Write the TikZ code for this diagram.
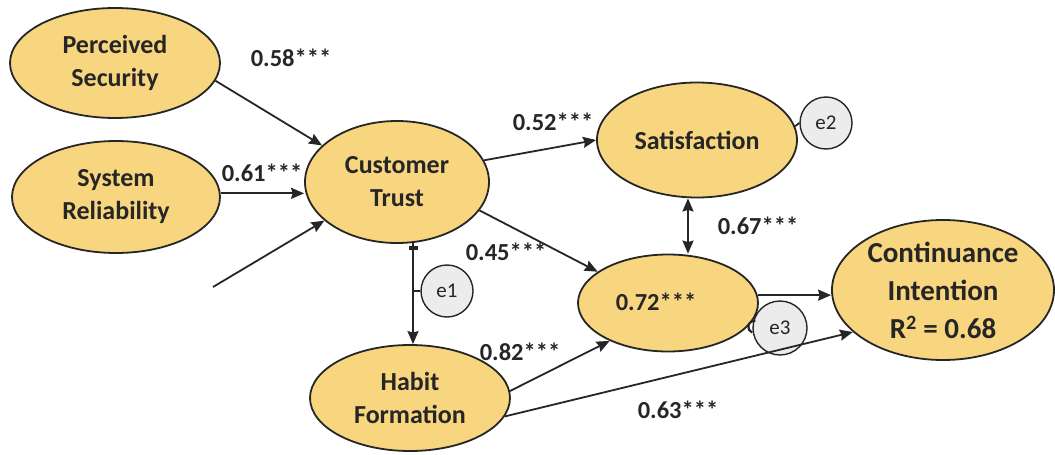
\documentclass[tikz,border=0pt]{standalone}
\usepackage{fontspec}
\setmainfont{Carlito}
\usetikzlibrary{arrows.meta,shapes.geometric}
\definecolor{lvfill}{HTML}{F8D57F}
\definecolor{efill}{HTML}{ECECEC}
\definecolor{ink}{HTML}{262626}
\tikzset{
 lv/.style={ellipse, draw=ink, line width=1.8pt, fill=lvfill, inner sep=0pt, align=center, text=ink, font=\fontsize{26}{33}\selectfont\bfseries},
 errc/.style={circle, draw=ink, line width=1.4pt, fill=efill, minimum size=52pt, inner sep=0pt, text=ink, font=\fontsize{21}{24}\selectfont},
 coef/.style={font=\fontsize{24.5}{28}\selectfont\bfseries, text=ink, inner sep=0pt},
 arr/.style={draw=ink, line width=1.8pt, -{Stealth[length=13pt,width=11pt,inset=1.5pt]}},
 darr/.style={draw=ink, line width=1.8pt, {Stealth[length=13pt,width=11pt,inset=1.5pt]}-{Stealth[length=13pt,width=11pt,inset=1.5pt]}},
 teearr/.style={draw=ink, line width=1.8pt, {Rectangle[length=4pt,width=9pt]}-{Stealth[length=13pt,width=11pt,inset=1.5pt]}},
 link/.style={draw=ink, line width=1.8pt},
}
\begin{document}
\begin{tikzpicture}[x=1pt,y=-1pt]
\useasboundingbox (0,0) rectangle (1055,455);
\fill[white] (0,0) rectangle (1055,455);

% latent variables
\node[lv, minimum width=210pt, minimum height=110pt] (ps) at (115,63) {Perceived\\Security};
\node[lv, minimum width=208pt, minimum height=112pt] (sr) at (116,197) {System\\Reliability};
\node[lv, minimum width=184pt, minimum height=122pt] (ct) at (397,182) {Customer\\Trust};
\node[lv, minimum width=200pt, minimum height=115pt] (sat) at (697,140) {Satisfaction};
\node[lv, minimum width=180pt, minimum height=97pt] (med) at (668,303) {};
\node[coef] (medt) at (656,302) {0.72***};
\node[lv, minimum width=222pt, minimum height=140pt, font=\fontsize{29}{38}\selectfont\bfseries] (ci) at (943,290) {Continuance\\Intention\\R\textsuperscript{2} = 0.68};
\node[lv, minimum width=200pt, minimum height=106pt] (hf) at (410,398) {Habit\\Formation};

% error terms
\node[errc] (e1) at (447,291) {e1};
\node[errc] (e2) at (826,123) {e2};
\node[errc, minimum size=54pt] (e3) at (780,328) {e3};

\coordinate (free) at (213,287);
\coordinate (teeTop) at ([xshift=16pt,yshift=-2pt]ct.south);
\coordinate (teeBot) at ([xshift=3pt]hf.north);

% paths
\draw[arr] (ps.-10) -- (ct.154);
\draw[arr] (sr.2) -- (sr.2 -| ct.west);
\draw[arr] (free) -- (ct.208);
\draw[arr] (ct.14) -- (sat.180);
\draw[arr] (ct.-19) -- (med.156);
\draw[darr] ([xshift=-9pt]sat.south) -- ([xshift=20pt]med.north);
\draw[arr] (med.5) -- (med.5 -| ci.west);
\draw[arr] (hf.4) -- (med.213);
\draw[arr] (hf.-11) -- (ci.205);
\draw[teearr] (teeTop) -- (teeBot |- teeTop) -- (teeTop |- teeBot);

% error links
\draw[link] (e1.west) -- (e1.west -| teeTop);
\draw[link] (e2.west) -- (sat.8);
\draw[link, line width=2.2pt] ([shift={(3pt,7pt)}]e3.west) arc[start angle=80, end angle=250, radius=6pt];

% coefficients
\node[coef] (c1) at (291,58) {0.58***};
\node[coef] (c2) at (262,173) {0.61***};
\node[coef] (c3) at (553,122) {0.52***};
\node[coef] (c4) at (506,252) {0.45***};
\node[coef] (c5) at (758,226) {0.67***};
\node[coef] (c6) at (520,352) {0.82***};
\node[coef] (c7) at (678,410) {0.63***};
\end{tikzpicture}
\end{document}
